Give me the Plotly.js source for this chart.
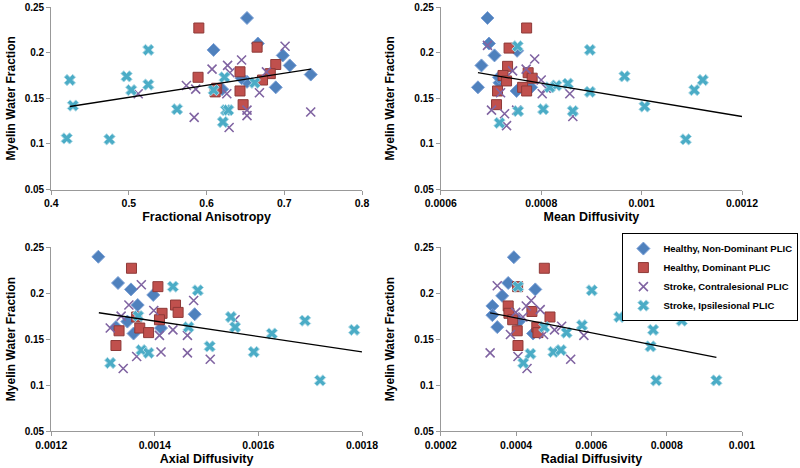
<!DOCTYPE html>
<html>
<head>
<meta charset="utf-8">
<script src="https://cdn.plot.ly/plotly-3.0.1.min.js"></script>
<style>
  html, body { margin: 0; padding: 0; background: #fff; }
  #chart { width: 800px; height: 468px; }
</style>
</head>
<body>
<div id="chart"></div>
<script>
// group names (legend)
var groupNames = [
    "Healthy, Non-Dominant PLIC",
    "Healthy, Dominant PLIC",
    "Stroke, Contralesional PLIC",
    "Stroke, Ipsilesional PLIC"
];

// Fractional Anisotropy panel
var faND_x = [0.652, 0.666, 0.609, 0.698, 0.707, 0.734, 0.652, 0.689, 0.620, 0.645];
var faND_y = [0.238, 0.210, 0.203, 0.197, 0.186, 0.176, 0.168, 0.162, 0.160, 0.172];
var faD_x = [0.590, 0.665, 0.689, 0.589, 0.643, 0.682, 0.672, 0.613, 0.611, 0.643, 0.647];
var faD_y = [0.227, 0.206, 0.187, 0.173, 0.179, 0.177, 0.170, 0.161, 0.157, 0.158, 0.143];
var faC_x = [0.701, 0.645, 0.627, 0.607, 0.630, 0.677, 0.574, 0.586, 0.512, 0.626, 0.668, 0.584, 0.652, 0.652, 0.734, 0.629];
var faC_y = [0.207, 0.192, 0.186, 0.182, 0.178, 0.179, 0.164, 0.160, 0.155, 0.155, 0.156, 0.129, 0.137, 0.131, 0.135, 0.118];
var faI_x = [0.525, 0.424, 0.497, 0.525, 0.503, 0.428, 0.562, 0.420, 0.475, 0.623, 0.609, 0.625, 0.621, 0.662, 0.628];
var faI_y = [0.203, 0.170, 0.174, 0.165, 0.159, 0.142, 0.138, 0.106, 0.105, 0.173, 0.159, 0.137, 0.124, 0.167, 0.137];
var faTrend_x = [0.424, 0.734];
var faTrend_y = [0.141, 0.182];

// Mean Diffusivity panel
var mdND_x = [0.000693, 0.000696, 0.000707, 0.000752, 0.000681, 0.000674, 0.000717, 0.000751, 0.000780, 0.000716];
var mdND_y = [0.238, 0.210, 0.197, 0.202, 0.186, 0.162, 0.167, 0.158, 0.162, 0.173];
var mdD_x = [0.000771, 0.000736, 0.000733, 0.000724, 0.000731, 0.000774, 0.000782, 0.000763, 0.000771, 0.000713, 0.000711];
var mdD_y = [0.227, 0.205, 0.185, 0.175, 0.169, 0.178, 0.172, 0.162, 0.158, 0.158, 0.143];
var mdC_x = [0.000693, 0.000787, 0.000743, 0.000800, 0.000810, 0.000802, 0.000857, 0.000719, 0.000701, 0.000727, 0.000731, 0.000863, 0.000751, 0.000770];
var mdC_y = [0.208, 0.193, 0.180, 0.170, 0.161, 0.155, 0.155, 0.156, 0.137, 0.133, 0.120, 0.130, 0.137, 0.182];
var mdI_x = [0.000897, 0.000966, 0.001122, 0.001105, 0.000897, 0.000853, 0.000830, 0.000817, 0.001006, 0.000804, 0.000863, 0.001088, 0.000753, 0.000754, 0.000717];
var mdI_y = [0.203, 0.174, 0.170, 0.159, 0.157, 0.166, 0.164, 0.162, 0.141, 0.138, 0.136, 0.105, 0.207, 0.136, 0.123];
var mdTrend_x = [0.000674, 0.0012];
var mdTrend_y = [0.178, 0.130];

// Axial Diffusivity panel
var adND_x = [0.001291, 0.001329, 0.001354, 0.001397, 0.001367, 0.001477, 0.001347, 0.001325, 0.001359, 0.001412];
var adND_y = [0.2395, 0.211, 0.204, 0.198, 0.187, 0.177, 0.169, 0.163, 0.156, 0.162];
var adD_x = [0.001355, 0.001406, 0.001440, 0.001445, 0.001414, 0.001409, 0.001365, 0.001371, 0.001388, 0.001331, 0.001325];
var adD_y = [0.227, 0.207, 0.187, 0.179, 0.178, 0.171, 0.174, 0.162, 0.157, 0.159, 0.143];
var adC_x = [0.001374, 0.001475, 0.001350, 0.001398, 0.001335, 0.001555, 0.001314, 0.001435, 0.001409, 0.001463, 0.001412, 0.001463, 0.001365, 0.001507, 0.001339];
var adC_y = [0.209, 0.192, 0.187, 0.181, 0.175, 0.171, 0.162, 0.160, 0.154, 0.154, 0.136, 0.135, 0.131, 0.128, 0.118];
var adI_x = [0.001435, 0.001483, 0.001547, 0.001555, 0.001690, 0.001785, 0.001626, 0.001465, 0.001506, 0.001591, 0.001374, 0.001388, 0.001314, 0.001719, 0.001368];
var adI_y = [0.207, 0.203, 0.174, 0.163, 0.170, 0.160, 0.156, 0.163, 0.142, 0.136, 0.138, 0.135, 0.124, 0.105, 0.175];
var adTrend_x = [0.001292, 0.0018];
var adTrend_y = [0.1786, 0.136];

// Radial Diffusivity panel
var rdND_x = [0.000394, 0.000379, 0.000451, 0.000363, 0.000337, 0.000337, 0.000350, 0.000407, 0.000445];
var rdND_y = [0.239, 0.211, 0.204, 0.197, 0.186, 0.176, 0.163, 0.169, 0.156];
var rdD_x = [0.000475, 0.000404, 0.000379, 0.000381, 0.000391, 0.000442, 0.000490, 0.000455, 0.000458, 0.000403, 0.000405];
var rdD_y = [0.227, 0.207, 0.186, 0.178, 0.171, 0.180, 0.174, 0.163, 0.157, 0.159, 0.143];
var rdC_x = [0.000350, 0.000440, 0.000427, 0.000399, 0.000464, 0.000521, 0.000502, 0.000580, 0.000385, 0.000473, 0.000331, 0.000405, 0.000545, 0.000429, 0.000418];
var rdC_y = [0.208, 0.192, 0.186, 0.179, 0.182, 0.164, 0.160, 0.154, 0.155, 0.155, 0.135, 0.131, 0.128, 0.118, 0.174];
var rdI_x = [0.000405, 0.000601, 0.000674, 0.000840, 0.000764, 0.000575, 0.000534, 0.000475, 0.000757, 0.000499, 0.000519, 0.000438, 0.000419, 0.000772, 0.000932];
var rdI_y = [0.207, 0.203, 0.174, 0.170, 0.160, 0.165, 0.157, 0.163, 0.142, 0.136, 0.138, 0.134, 0.124, 0.105, 0.105];
var rdTrend_x = [0.000331, 0.000932];
var rdTrend_y = [0.1786, 0.130];

// axis ticks
var yTickVals = [0.05, 0.1, 0.15, 0.2, 0.25];
var yTickText = ["0.05", "0.1", "0.15", "0.2", "0.25"];
var faTickVals = [0.4, 0.5, 0.6, 0.7, 0.8];
var faTickText = ["0.4", "0.5", "0.6", "0.7", "0.8"];
var mdTickVals = [0.0006, 0.0008, 0.001, 0.0012];
var mdTickText = ["0.0006", "0.0008", "0.001", "0.0012"];
var adTickVals = [0.0012, 0.0014, 0.0016, 0.0018];
var adTickText = ["0.0012", "0.0014", "0.0016", "0.0018"];
var rdTickVals = [0.0002, 0.0004, 0.0006, 0.0008, 0.001];
var rdTickText = ["0.0002", "0.0004", "0.0006", "0.0008", "0.001"];

/*
 * Marker looks for each group, Excel-ish
 */
var markerStyles = [
    {symbol: 'diamond', size: 10, color: '#4F81BD', line: {color: '#7A9FD6', width: 1}},
    {symbol: 'square', size: 10, color: '#C0504D', line: {color: '#8E3A38', width: 1}},
    {symbol: 'x-thin-open', size: 9, color: '#8064A2', line: {color: '#8064A2', width: 1.6}},
    {symbol: 'x', size: 10, color: '#4BACC6', line: {color: '#A9D9E6', width: 1}}
];

function panelTraces(xs, ys, trendX, trendY, axX, axY, legend) {
    var traces = [];
    for (var i = 0; i < xs.length; i++) {
        traces.push({
            x: xs[i],
            y: ys[i],
            xaxis: axX,
            yaxis: axY,
            type: 'scatter',
            mode: 'markers',
            marker: markerStyles[i],
            name: groupNames[i],
            legendgroup: 'g' + i,
            showlegend: legend,
            hoverinfo: 'x+y'
        });
    }
    traces.push({
        x: trendX,
        y: trendY,
        xaxis: axX,
        yaxis: axY,
        type: 'scatter',
        mode: 'lines',
        line: {color: '#000', width: 1.3},
        showlegend: false,
        hoverinfo: 'skip'
    });
    return traces;
}

var data = [].concat(
    panelTraces([faND_x, faD_x, faC_x, faI_x], [faND_y, faD_y, faC_y, faI_y], faTrend_x, faTrend_y, 'x', 'y', false),
    panelTraces([mdND_x, mdD_x, mdC_x, mdI_x], [mdND_y, mdD_y, mdC_y, mdI_y], mdTrend_x, mdTrend_y, 'x2', 'y2', false),
    panelTraces([adND_x, adD_x, adC_x, adI_x], [adND_y, adD_y, adC_y, adI_y], adTrend_x, adTrend_y, 'x3', 'y3', false),
    panelTraces([rdND_x, rdD_x, rdC_x, rdI_x], [rdND_y, rdD_y, rdC_y, rdI_y], rdTrend_x, rdTrend_y, 'x4', 'y4', true)
);

var fontFamily = 'Liberation Sans, Arial, sans-serif';

function xAxis(title, vals, text, range, domain, anchor) {
    return {
        domain: domain,
        anchor: anchor,
        range: range,
        tickvals: vals,
        ticktext: text,
        ticks: 'outside',
        ticklen: 4,
        tickcolor: '#999',
        showline: true,
        linecolor: '#999',
        linewidth: 1,
        showgrid: false,
        zeroline: false,
        tickfont: {family: fontFamily, size: 10.5, color: '#000', weight: 'bold'},
        title: {text: title, font: {family: fontFamily, size: 12.5, color: '#000', weight: 'bold'}, standoff: 4}
    };
}

function yAxis(domain, anchor, standoff) {
    return {
        domain: domain,
        anchor: anchor,
        range: [0.05, 0.25],
        tickvals: yTickVals,
        ticktext: yTickText,
        ticks: 'outside',
        ticklen: 4,
        tickcolor: '#999',
        showline: true,
        linecolor: '#999',
        linewidth: 1,
        showgrid: false,
        zeroline: false,
        tickfont: {family: fontFamily, size: 10, color: '#000', weight: 'bold'},
        title: {text: 'Myelin Water Fraction', font: {family: fontFamily, size: 12, color: '#000', weight: 'bold'}, standoff: standoff}
    };
}

var leftDom = [0.064, 0.4525];
var rightDom = [0.551, 0.9275];
var topDom = [0.595, 0.985];
var botDom = [0.079, 0.472];

var layout = {
    width: 800,
    height: 468,
    margin: {l: 0, r: 0, t: 0, b: 0},
    paper_bgcolor: '#fff',
    plot_bgcolor: '#fff',
    showlegend: true,
    legend: {
        x: 0.998,
        y: 0.502,
        xanchor: 'right',
        yanchor: 'top',
        bgcolor: '#fff',
        bordercolor: '#000',
        borderwidth: 1,
        font: {family: fontFamily, size: 9.5, color: '#000', weight: 'bold'},
        tracegroupgap: 0,
        itemwidth: 30
    },
    xaxis: xAxis('Fractional Anisotropy', faTickVals, faTickText, [0.4, 0.8], leftDom, 'y'),
    yaxis: yAxis(topDom, 'x', 6),
    xaxis2: xAxis('Mean Diffusivity', mdTickVals, mdTickText, [0.0006, 0.0012], rightDom, 'y2'),
    yaxis2: yAxis(topDom, 'x2', 17),
    xaxis3: xAxis('Axial Diffusivity', adTickVals, adTickText, [0.0012, 0.0018], leftDom, 'y3'),
    yaxis3: yAxis(botDom, 'x3', 6),
    xaxis4: xAxis('Radial Diffusivity', rdTickVals, rdTickText, [0.0002, 0.001], rightDom, 'y4'),
    yaxis4: yAxis(botDom, 'x4', 17)
};

Plotly.newPlot('chart', data, layout, {displayModeBar: false, staticPlot: true});
</script>
</body>
</html>
